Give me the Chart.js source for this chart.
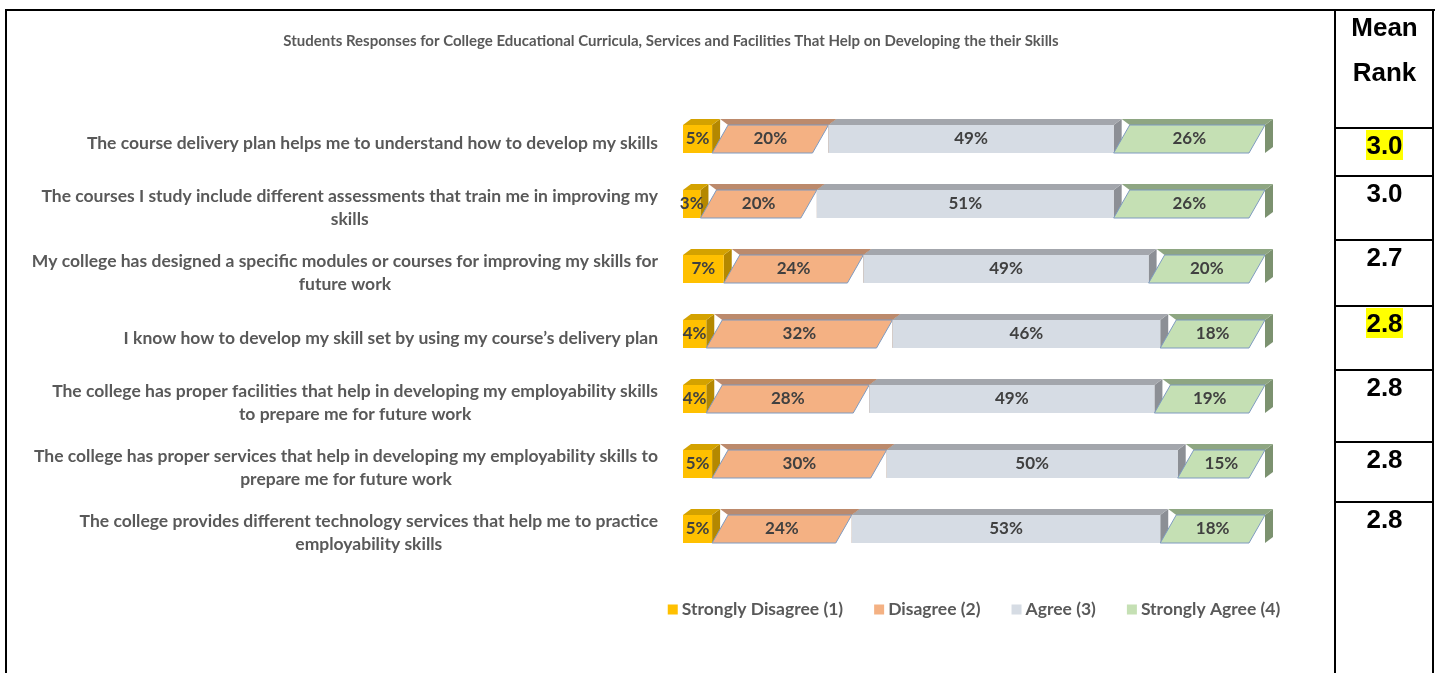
<!DOCTYPE html>
<html>
<head>
<meta charset="utf-8">
<script src="https://cdn.jsdelivr.net/npm/chart.js@4.4.1/dist/chart.umd.min.js"></script>
<style>
  html, body { margin: 0; padding: 0; background: #fff; }
  body { width: 1435px; height: 673px; position: relative; overflow: hidden; }
  #chart { position: absolute; left: 0; top: 0; }
  .line { position: absolute; background: #000; }
  .cell { position: absolute; left: 1336px; width: 97px; text-align: center;
          font-family: "Liberation Sans", Arial, sans-serif; font-weight: bold;
          font-size: 26px; line-height: 30px; color: #000; }
  .cell .hl { background: #ffff00; }
</style>
</head>
<body>
<canvas id="chart" width="1335" height="673"></canvas>
<div id="table"></div>
<script>
// survey items (multi-line ones are pre-wrapped)
const categories = [
  "The course delivery plan helps me to understand how to develop my skills",
  ["The courses I study include different assessments that train me in improving my", "skills"],
  ["My college has designed a specific modules or courses for improving my skills for", "future work"],
  "I know how to develop my skill set by using my course\u2019s delivery plan",
  ["The college has proper facilities that help in developing my employability skills", "to prepare me for future work"],
  ["The college has proper services that help in developing my employability skills to", "prepare me for future work"],
  ["The college provides different technology services that help me to practice", "employability skills"]
];

const seriesNames = ["Strongly Disagree (1)", "Disagree (2)", "Agree (3)", "Strongly Agree (4)"];
const stronglyDisagree = [5, 3, 7, 4, 4, 5, 5];
const disagree = [20, 20, 24, 32, 28, 30, 24];
const agree = [49, 51, 49, 46, 49, 50, 53];
const stronglyAgree = [26, 26, 20, 18, 19, 15, 18];

const meanRank = ["3.0", "3.0", "2.7", "2.8", "2.8", "2.8", "2.8"];
const highlighted = [true, false, false, true, false, false, false];

// colours per series: front face, top face, side face
const faces = [
  { front: "#FFC000", top: "#D4A200", side: "#B48800", skew: false },
  { front: "#F4B183", top: "#BC8A6C", side: "#A27558", skew: true, stroke: "#7E9AC0" },
  { front: "#D6DCE4", top: "#A3A6AC", side: "#8C8F95", skew: false },
  { front: "#C5E0B4", top: "#8EA682", side: "#7C9270", skew: true, stroke: "#7E9AC0" }
];
const DX = 8, DY = 6, SKEW = 16;
const FONT = "Lato, 'Open Sans', sans-serif";

function poly(ctx, pts, fill, stroke) {
  ctx.beginPath();
  ctx.moveTo(pts[0][0], pts[0][1]);
  for (let i = 1; i < pts.length; i++) ctx.lineTo(pts[i][0], pts[i][1]);
  ctx.closePath();
  ctx.fillStyle = fill;
  ctx.fill();
  if (stroke) {
    ctx.lineWidth = 1;
    ctx.strokeStyle = stroke;
    ctx.stroke();
  }
}

// draws every bar as a small 3D box, then the value labels on top
const box3d = {
  id: "box3d",
  beforeDatasetDraw() { return false; },
  afterDatasetsDraw(chart) {
    const ctx = chart.ctx;
    const fronts = [];
    ctx.save();
    chart.data.datasets.forEach((ds, di) => {
      const f = faces[di];
      chart.getDatasetMeta(di).data.forEach((bar, i) => {
        const p = bar.getProps(["x", "y", "base", "height"], true);
        const L = p.base, R = p.x, T = p.y - p.height / 2, B = p.y + p.height / 2;
        const s = f.skew ? SKEW : 0;
        poly(ctx, [[R, T], [R + DX, T - DY], [R + DX, B - DY], [R, B]], f.side);
        poly(ctx, [[L + s, T], [R, T], [R + DX, T - DY], [L + DX, T - DY]], f.top);
        poly(ctx, [[L, B], [L + s, T], [R, T], [R - s, B]], f.front, f.stroke);
        fronts.push({ x: (L + R) / 2, y: p.y, text: ds.data[i] + "%" });
      });
    });
    ctx.font = "bold 17px " + FONT;
    ctx.fillStyle = "#404040";
    ctx.textAlign = "center";
    ctx.textBaseline = "middle";
    fronts.forEach(l => ctx.fillText(l.text, l.x, l.y));
    ctx.restore();
  }
};

// category labels: each block right-aligned to the axis, lines centred inside it
const categoryLabels = {
  id: "categoryLabels",
  afterDraw(chart) {
    const ctx = chart.ctx;
    const yScale = chart.scales.y;
    const right = chart.chartArea.left - 25;
    const lh = 22.5;
    ctx.save();
    ctx.font = "bold 17.5px " + FONT;
    ctx.fillStyle = "#595959";
    ctx.textAlign = "center";
    ctx.textBaseline = "middle";
    categories.forEach((c, i) => {
      const lines = Array.isArray(c) ? c : [c];
      const w = Math.max(...lines.map(t => ctx.measureText(t).width));
      const cx = right - w / 2;
      const y0 = yScale.getPixelForValue(i) + 4 - (lines.length - 1) * lh / 2;
      lines.forEach((t, k) => ctx.fillText(t, cx, y0 + k * lh));
    });
    ctx.restore();
  }
};

// one-row legend centred under the bars
const bottomLegend = {
  id: "bottomLegend",
  afterDraw(chart) {
    const ctx = chart.ctx;
    const area = chart.chartArea;
    const box = 10, gap = 4, itemGap = 31;
    ctx.save();
    ctx.font = "bold 17.5px " + FONT;
    ctx.textBaseline = "middle";
    ctx.textAlign = "left";
    const items = chart.data.datasets.map(ds => ({
      text: ds.label, color: ds.backgroundColor, w: box + gap + ctx.measureText(ds.label).width
    }));
    const total = items.reduce((a, it) => a + it.w, 0) + itemGap * (items.length - 1);
    let x = (area.left + area.right) / 2 - total / 2;
    const y = area.bottom + 48;
    items.forEach(it => {
      ctx.fillStyle = it.color;
      ctx.fillRect(x, y - box / 2, box, box);
      ctx.fillStyle = "#595959";
      ctx.fillText(it.text, x + box + gap, y);
      x += it.w + itemGap;
    });
    ctx.restore();
  }
};

const series = [stronglyDisagree, disagree, agree, stronglyAgree];

new Chart(document.getElementById("chart"), {
  type: "bar",
  data: {
    labels: categories,
    datasets: series.map((d, i) => ({
      label: seriesNames[i],
      data: d,
      backgroundColor: faces[i].front,
      borderWidth: 0,
      barThickness: 28
    }))
  },
  options: {
    responsive: false,
    animation: false,
    indexAxis: "y",
    layout: { padding: { left: 77, right: 70, top: 0, bottom: 111.5 } },
    scales: {
      x: { stacked: true, min: 0, max: 100, display: false },
      y: {
        stacked: true,
        grid: { display: false }, ticks: { display: false }, border: { display: false },
        afterFit: s => { s.width = 606; }
      }
    },
    plugins: {
      title: {
        display: true,
        text: "Students Responses for College Educational Curricula, Services and Facilities That Help on Developing the their Skills",
        color: "#595959",
        font: { family: FONT, size: 15, weight: "bold" },
        padding: { top: 32, bottom: 56.5 }
      },
      legend: { display: false },
      tooltip: { enabled: false }
    }
  },
  plugins: [box3d, categoryLabels, bottomLegend]
});

// frame and Mean Rank column
const table = document.getElementById("table");
function addLine(l, t, w, h) {
  const d = document.createElement("div");
  d.className = "line";
  Object.assign(d.style, { left: l + "px", top: t + "px", width: w + "px", height: h + "px" });
  table.appendChild(d);
}
function addCell(top, html) {
  const d = document.createElement("div");
  d.className = "cell";
  d.style.top = top + "px";
  d.innerHTML = html;
  table.appendChild(d);
}
addLine(5, 9, 1430, 2);
addLine(5, 9, 2, 664);
addLine(1334, 9, 2, 664);
addLine(1432, 9, 2, 664);
const rowTops = [127, 175, 239, 305, 369, 441, 501];
rowTops.forEach(t => addLine(1334, t, 100, 2));
addCell(12, "Mean");
addCell(57, "Rank");
meanRank.forEach((v, i) => {
  addCell(rowTops[i] + 3, highlighted[i] ? '<span class="hl">' + v + "</span>" : v);
});
</script>
</body>
</html>
